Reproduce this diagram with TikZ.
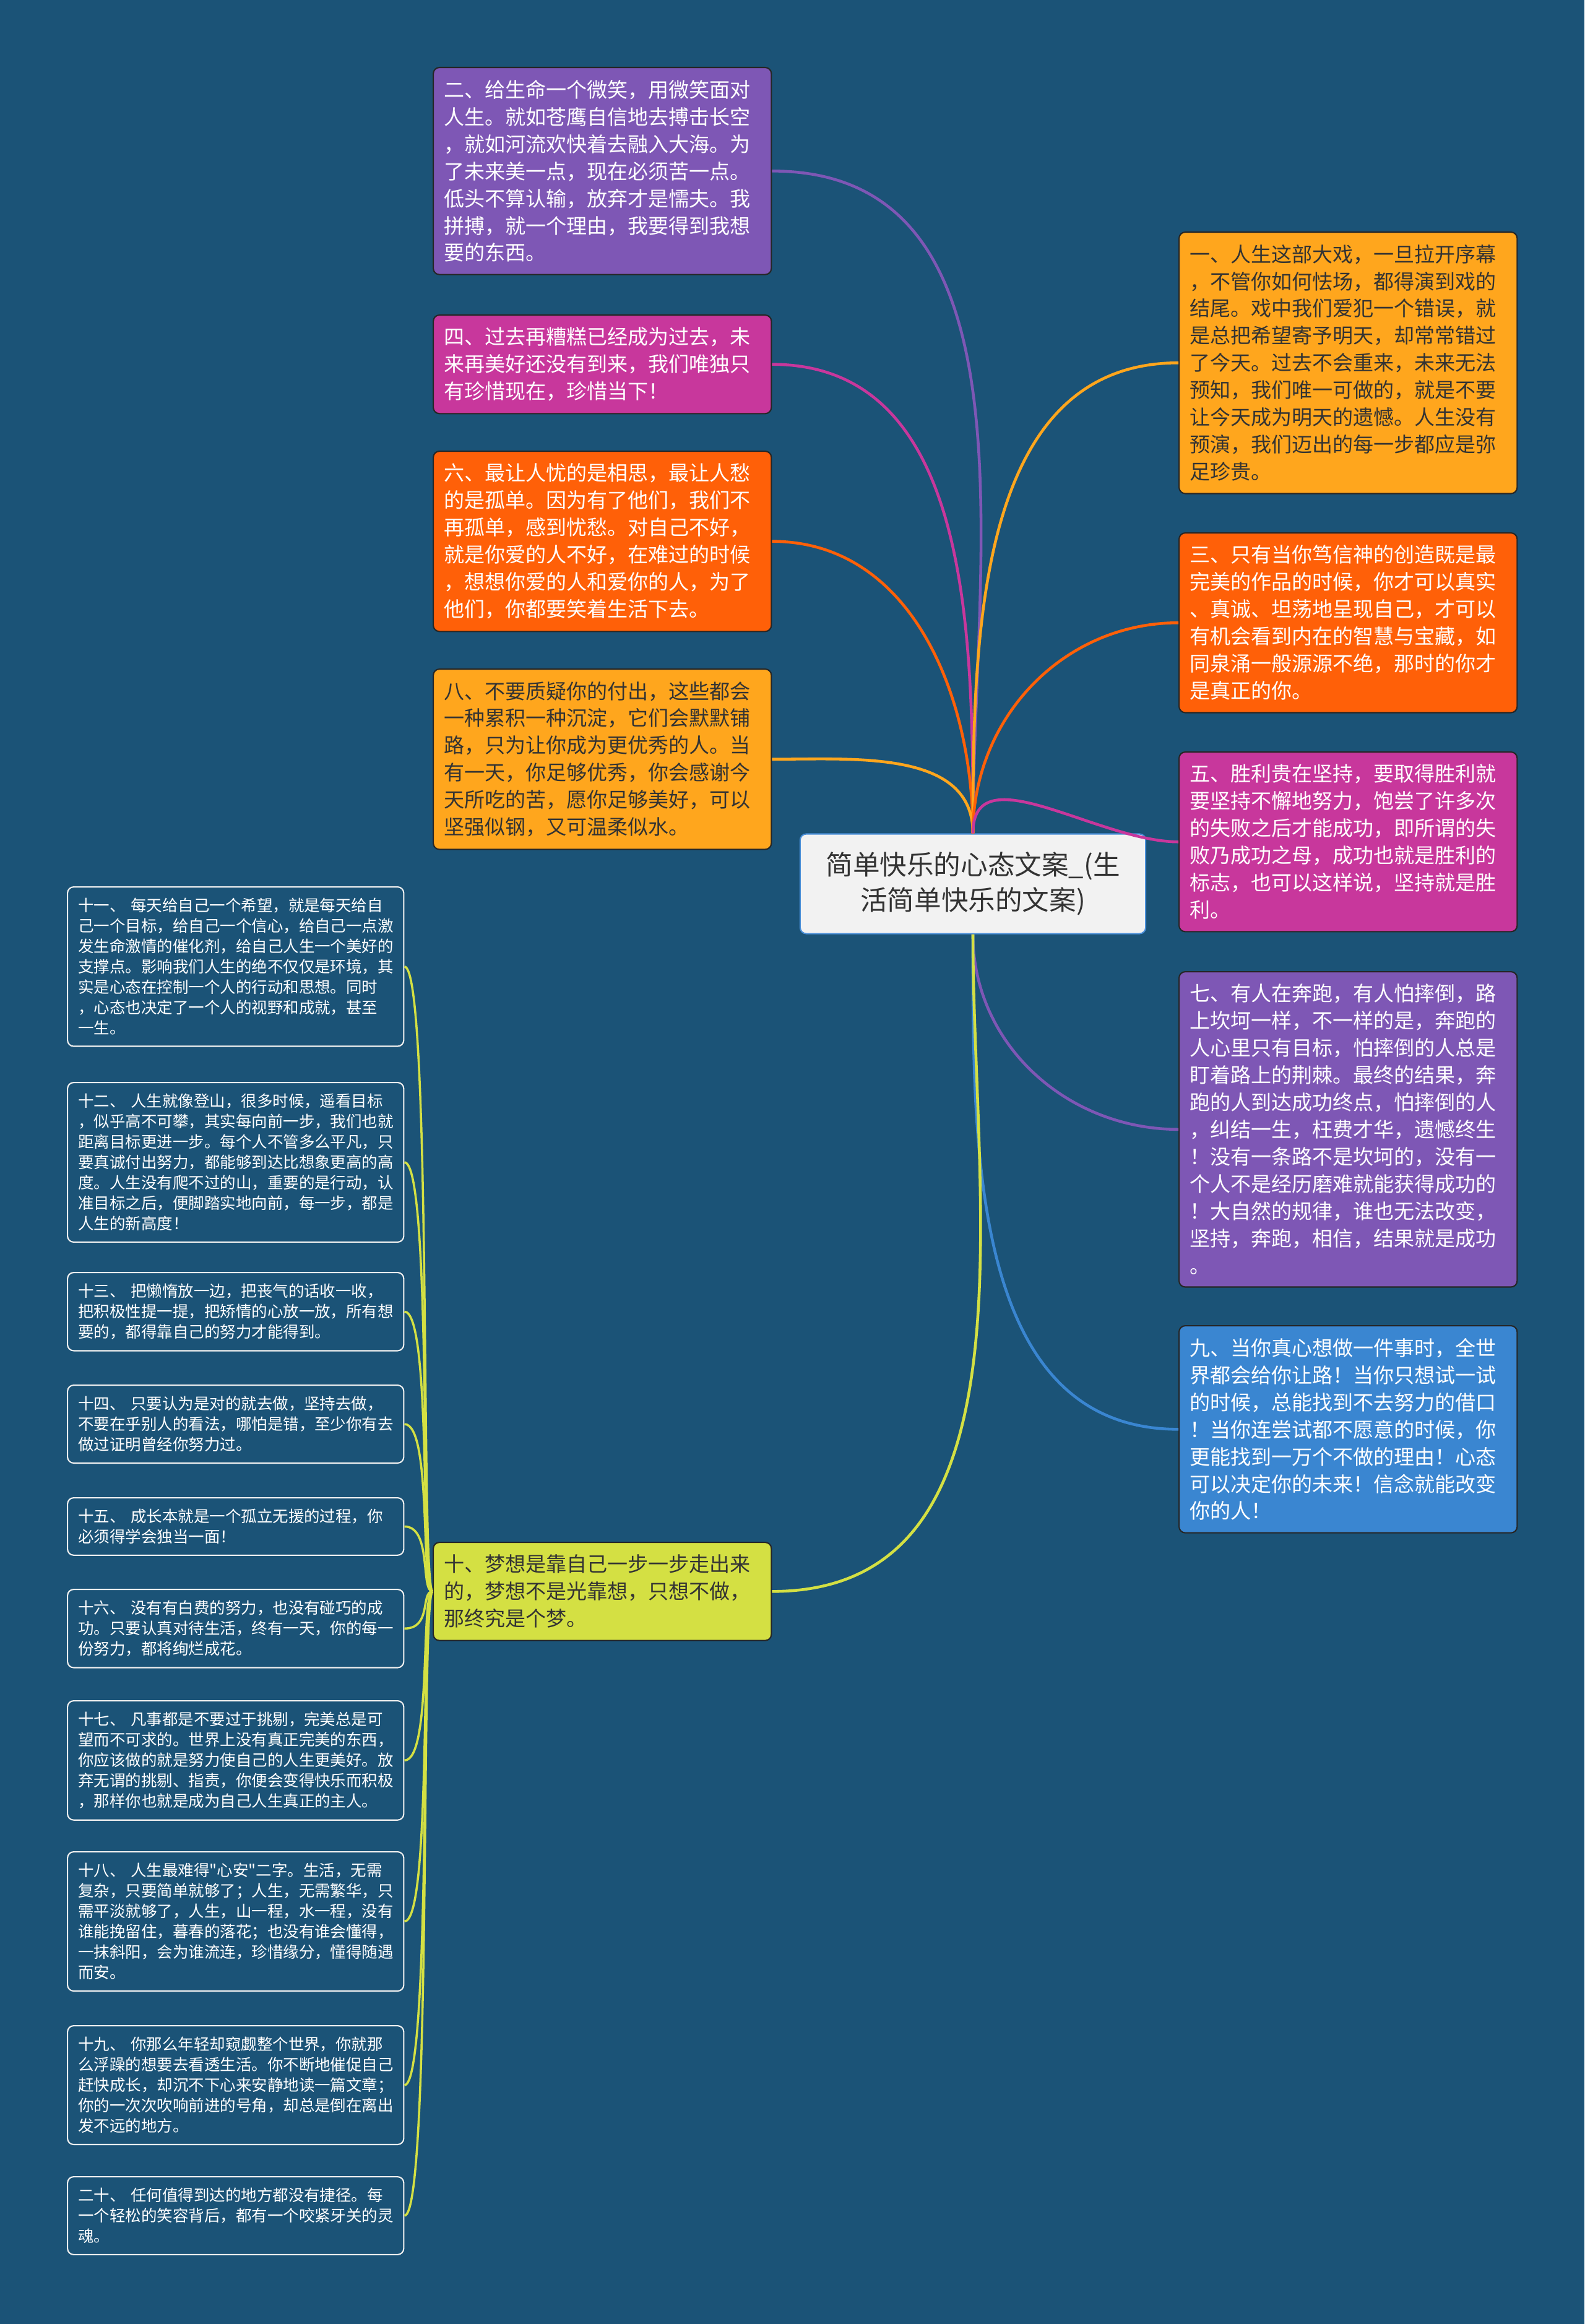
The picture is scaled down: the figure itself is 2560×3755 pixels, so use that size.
\documentclass[tikz,border=0pt]{standalone}
\usepackage{fontspec}
\setmainfont{Noto Sans CJK SC}[Ligatures=TeXOff]
\usetikzlibrary{positioning}

\definecolor{bgblue}{HTML}{1B5377}
\definecolor{cpurple}{HTML}{7E57B5}
\definecolor{cmagenta}{HTML}{C8379C}
\definecolor{cred}{HTML}{FF6008}
\definecolor{cyellow}{HTML}{FFA61D}
\definecolor{cblue}{HTML}{3A86D1}
\definecolor{clime}{HTML}{D4E043}
\definecolor{darktxt}{HTML}{333333}
\definecolor{rootline}{HTML}{4A8FD8}

\newcommand{\leaftxt}{\fontsize{9.4pt}{12.5pt}\selectfont}
\newcommand{\subtxt}{\fontsize{7.25pt}{9.4pt}\selectfont}
\newcommand{\roottxt}{\fontsize{12.4pt}{16.3pt}\selectfont}

\tikzset{
    leaf/.style={draw=black!85, line width=0.6pt, rounded corners=0.1cm, anchor=north west,
        text width=5.12cm, inner xsep=0.17cm, inner ysep=0.2cm, align=left, font=\leaftxt},
    subleaf/.style={draw=white!88!gray, line width=0.6pt, rounded corners=0.1cm, anchor=north west,
        fill=bgblue, text=white, text width=5.09cm, inner xsep=0.17cm, inner ysep=0.18cm,
        align=left, font=\subtxt},
    link/.style={line width=1.3pt},
}

\begin{document}
\begin{tikzpicture}[x=0.01cm, y=-0.01cm]
    \fill[bgblue] (0,0) rectangle (2560,3755);
    \useasboundingbox (0,0) rectangle (2560,3755);

    % root
    \node[draw=rootline, line width=0.6pt, fill=white!95!black, rounded corners=0.1cm,
        minimum width=5.58cm, minimum height=1.61cm, align=center, font=\roottxt, text=darktxt]
        (root) at (1572,1428) {简单快乐的心态文案\_(生\\活简单快乐的文案)};

    % left column
    \node[leaf, fill=cpurple, text=white] (b2) at (699,108) {二、给生命一个微笑，用微笑面对\\人生。就如苍鹰自信地去搏击长空\\，就如河流欢快着去融入大海。为\\了未来美一点，现在必须苦一点。\\低头不算认输，放弃才是懦夫。我\\拼搏，就一个理由，我要得到我想\\要的东西。};
    \node[leaf, fill=cmagenta, text=white] (b4) at (699,508) {四、过去再糟糕已经成为过去，未\\来再美好还没有到来，我们唯独只\\有珍惜现在，珍惜当下！};
    \node[leaf, fill=cred, text=white] (b6) at (699,728) {六、最让人忧的是相思，最让人愁\\的是孤单。因为有了他们，我们不\\再孤单，感到忧愁。对自己不好，\\就是你爱的人不好，在难过的时候\\，想想你爱的人和爱你的人，为了\\他们，你都要笑着生活下去。};
    \node[leaf, fill=cyellow, text=darktxt] (b8) at (699,1080) {八、不要质疑你的付出，这些都会\\一种累积一种沉淀，它们会默默铺\\路，只为让你成为更优秀的人。当\\有一天，你足够优秀，你会感谢今\\天所吃的苦，愿你足够美好，可以\\坚强似钢，又可温柔似水。};
    \node[leaf, fill=clime, text=darktxt] (b10) at (699,2491) {十、梦想是靠自己一步一步走出来\\的，梦想不是光靠想，只想不做，\\那终究是个梦。};

    % right column
    \node[leaf, fill=cyellow, text=darktxt] (b1) at (1904,374) {一、人生这部大戏，一旦拉开序幕\\，不管你如何怯场，都得演到戏的\\结尾。戏中我们爱犯一个错误，就\\是总把希望寄予明天，却常常错过\\了今天。过去不会重来，未来无法\\预知，我们唯一可做的，就是不要\\让今天成为明天的遗憾。人生没有\\预演，我们迈出的每一步都应是弥\\足珍贵。};
    \node[leaf, fill=cred, text=white] (b3) at (1904,860) {三、只有当你笃信神的创造既是最\\完美的作品的时候，你才可以真实\\、真诚、坦荡地呈现自己，才可以\\有机会看到内在的智慧与宝藏，如\\同泉涌一般源源不绝，那时的你才\\是真正的你。};
    \node[leaf, fill=cmagenta, text=white] (b5) at (1904,1214) {五、胜利贵在坚持，要取得胜利就\\要坚持不懈地努力，饱尝了许多次\\的失败之后才能成功，即所谓的失\\败乃成功之母，成功也就是胜利的\\标志，也可以这样说，坚持就是胜\\利。};
    \node[leaf, fill=cpurple, text=white] (b7) at (1904,1569) {七、有人在奔跑，有人怕摔倒，路\\上坎坷一样，不一样的是，奔跑的\\人心里只有目标，怕摔倒的人总是\\盯着路上的荆棘。最终的结果，奔\\跑的人到达成功终点，怕摔倒的人\\，纠结一生，枉费才华，遗憾终生\\！没有一条路不是坎坷的，没有一\\个人不是经历磨难就能获得成功的\\！大自然的规律，谁也无法改变，\\坚持，奔跑，相信，结果就是成功\\。};
    \node[leaf, fill=cblue, text=white] (b9) at (1904,2141) {九、当你真心想做一件事时，全世\\界都会给你让路！当你只想试一试\\的时候，总能找到不去努力的借口\\！当你连尝试都不愿意的时候，你\\更能找到一万个不做的理由！心态\\可以决定你的未来！信念就能改变\\你的人！};

    % sub items of b10
    \node[subleaf] (s11) at (108,1432) {十一、~每天给自己一个希望，就是每天给自\\己一个目标，给自己一个信心，给自己一点激\\发生命激情的催化剂，给自己人生一个美好的\\支撑点。影响我们人生的绝不仅仅是环境，其\\实是心态在控制一个人的行动和思想。同时\\，心态也决定了一个人的视野和成就，甚至\\一生。};
    \node[subleaf] (s12) at (108,1748) {十二、~人生就像登山，很多时候，遥看目标\\，似乎高不可攀，其实每向前一步，我们也就\\距离目标更进一步。每个人不管多么平凡，只\\要真诚付出努力，都能够到达比想象更高的高\\度。人生没有爬不过的山，重要的是行动，认\\准目标之后，便脚踏实地向前，每一步，都是\\人生的新高度！};
    \node[subleaf] (s13) at (108,2055) {十三、~把懒惰放一边，把丧气的话收一收，\\把积极性提一提，把矫情的心放一放，所有想\\要的，都得靠自己的努力才能得到。};
    \node[subleaf] (s14) at (108,2237) {十四、~只要认为是对的就去做，坚持去做，\\不要在乎别人的看法，哪怕是错，至少你有去\\做过证明曾经你努力过。};
    \node[subleaf] (s15) at (108,2419) {十五、~成长本就是一个孤立无援的过程，你\\必须得学会独当一面！};
    \node[subleaf] (s16) at (108,2567) {十六、~没有有白费的努力，也没有碰巧的成\\功。只要认真对待生活，终有一天，你的每一\\份努力，都将绚烂成花。};
    \node[subleaf] (s17) at (108,2747) {十七、~凡事都是不要过于挑剔，完美总是可\\望而不可求的。世界上没有真正完美的东西，\\你应该做的就是努力使自己的人生更美好。放\\弃无谓的挑剔、指责，你便会变得快乐而积极\\，那样你也就是成为自己人生真正的主人。};
    \node[subleaf] (s18) at (108,2991) {十八、~人生最难得"心安"二字。生活，无需\\复杂，只要简单就够了；人生，无需繁华，只\\需平淡就够了，人生，山一程，水一程，没有\\谁能挽留住，暮春的落花；也没有谁会懂得，\\一抹斜阳，会为谁流连，珍惜缘分，懂得随遇\\而安。};
    \node[subleaf] (s19) at (108,3272) {十九、~你那么年轻却窥觑整个世界，你就那\\么浮躁的想要去看透生活。你不断地催促自己\\赶快成长，却沉不下心来安静地读一篇文章；\\你的一次次吹响前进的号角，却总是倒在离出\\发不远的地方。};
    \node[subleaf] (s20) at (108,3516) {二十、~任何值得到达的地方都没有捷径。每\\一个轻松的笑容背后，都有一个咬紧牙关的灵\\魂。};

    % branches from root
    \draw[link, cpurple] (root.north) to[out=90, in=0] (b2.east);
    \draw[link, cmagenta] (root.north) to[out=90, in=0] (b4.east);
    \draw[link, cred] (root.north) to[out=90, in=0] (b6.east);
    \draw[link, cyellow] (root.north) to[out=90, in=0] (b8.east);
    \draw[link, cyellow] (root.north) to[out=90, in=180] (b1.west);
    \draw[link, cred] (root.north) to[out=90, in=180] (b3.west);
    \draw[link, cmagenta] (root.north) to[out=90, in=180] (b5.west);
    \draw[link, cpurple] (root.south) to[out=-90, in=180] (b7.west);
    \draw[link, cblue] (root.south) to[out=-90, in=180] (b9.west);
    \draw[link, clime] (root.south) to[out=-90, in=0] (b10.east);

    % branches from b10
    \foreach \s in {s11,s12,s13,s14,s15,s16,s17,s18,s19,s20}
        \draw[link, clime, line width=1pt] (b10.west) .. controls +(-20,0) and +(45,0) .. (\s.east);
\end{tikzpicture}
\end{document}
